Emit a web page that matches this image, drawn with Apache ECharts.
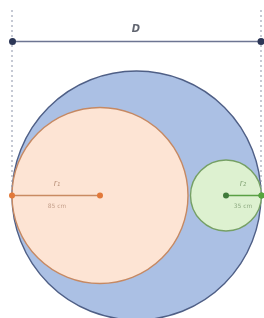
<!DOCTYPE html>
<html>
<head>
<meta charset="utf-8">
<script src="https://cdn.jsdelivr.net/npm/echarts@6/dist/echarts.min.js"></script>
<style>html,body{margin:0;padding:0;background:#fff}#c{width:264px;height:318px}</style>
</head>
<body>
<div id="c"></div>
<script>
// Diagram values (diagram units)
const circleNames = ['D', 'r1', 'r2'];
const circleCX = [136.5, 100, 226];
const circleCY = [195.5, 195.5, 195.5];
const circleR = [124.5, 88, 35.5];
const circleFill = ['#abc0e4', '#fde4d4', '#ddf1d0'];
const circleStroke = ['#4f5f86', '#c68963', '#76a065'];

const dimY = 41.5;                 // D dimension line level
const dimLeft = 12.5, dimRight = 261;
const extTop = 10, extBottom = 195.5;
const labelD = 'D';
const labelR1 = 'r\u2081', valR1 = '85 cm';
const labelR2 = 'r\u2082', valR2 = '35 cm';

const chart = echarts.init(document.getElementById('c'), null, {renderer: 'canvas'});

function circleItem(params, api) {
  const i = params.dataIndex;
  const c = api.coord([api.value(0), api.value(1)]);
  const r = api.size([api.value(2), 0])[0];
  return {
    type: 'circle',
    shape: {cx: c[0], cy: c[1], r: r},
    style: {fill: circleFill[i], stroke: circleStroke[i], lineWidth: 1.4}
  };
}

const circleData = circleCX.map((x, i) => [x, circleCY[i], circleR[i]]);

const option = {
  animation: false,
  grid: {left: 0, right: 0, top: 0, bottom: 0},
  xAxis: {type: 'value', min: 0, max: 264, show: false},
  yAxis: {type: 'value', min: 0, max: 318, inverse: true, show: false},
  series: [
    {
      type: 'custom', renderItem: circleItem, data: circleData, z: 1,
      encode: {x: 0, y: 1}
    },
    // extension lines
    {
      type: 'line', symbol: 'none', z: 2,
      lineStyle: {color: '#8c93a8', width: 1, type: [2, 3]},
      data: [[dimLeft - 0.5, extTop], [dimLeft - 0.5, extBottom]]
    },
    {
      type: 'line', symbol: 'none', z: 2,
      lineStyle: {color: '#8c93a8', width: 1, type: [2, 3]},
      data: [[dimRight, extTop], [dimRight, extBottom]]
    },
    // D dimension line
    {
      type: 'line', z: 3, symbol: 'circle', symbolSize: 7,
      itemStyle: {color: '#2c3656'},
      lineStyle: {color: '#6d7592', width: 1.5},
      data: [[dimLeft, dimY], [dimRight, dimY]]
    },
    // r1 radius
    {
      type: 'line', z: 3, symbol: 'circle', symbolSize: 6,
      itemStyle: {color: '#e2793a'},
      lineStyle: {color: '#c98a62', width: 1.4},
      data: [[circleCX[1] - circleR[1], circleCY[1]], [circleCX[1], circleCY[1]]]
    },
    // r2 radius
    {
      type: 'line', z: 3, symbol: 'circle', symbolSize: 6,
      itemStyle: {color: '#3f7a3a'},
      lineStyle: {color: '#5aa044', width: 1.4},
      data: [[circleCX[2], circleCY[2]], [circleCX[2] + circleR[2], circleCY[2]]]
    },
    {
      type: 'scatter', z: 4, symbolSize: 6,
      itemStyle: {color: '#5cb040'},
      data: [[circleCX[2] + circleR[2], circleCY[2]]]
    },
    // labels
    {
      type: 'scatter', z: 5, symbolSize: 0, silent: true,
      data: [
        {value: [136, 29], label: {show: true, formatter: labelD, fontSize: 10, fontStyle: 'italic', fontWeight: 'bold', color: '#3a3f4c'}},
        {value: [57, 184], label: {show: true, formatter: labelR1, fontSize: 8, fontStyle: 'italic', color: '#a77a60'}},
        {value: [57, 206], label: {show: true, formatter: valR1, fontSize: 6, color: '#b8907a'}},
        {value: [243, 184], label: {show: true, formatter: labelR2, fontSize: 8, fontStyle: 'italic', color: '#6f9462'}},
        {value: [243, 206], label: {show: true, formatter: valR2, fontSize: 6, color: '#7e9c72'}}
      ],
      label: {position: 'inside', fontFamily: 'DejaVu Sans'}
    }
  ]
};
chart.setOption(option);
</script>
</body>
</html>
